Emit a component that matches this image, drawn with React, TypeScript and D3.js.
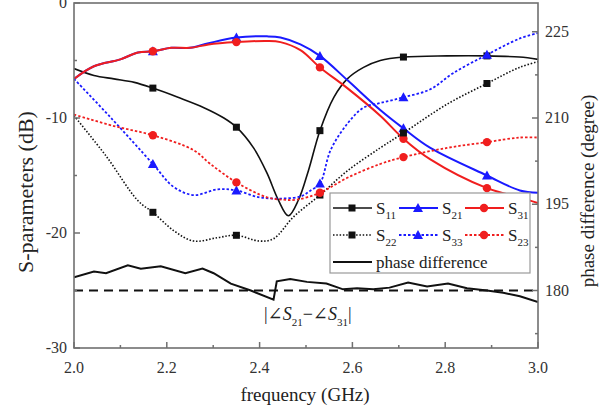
import React from "react";
import * as d3 from "d3";

// frequency (GHz), S-parameter (dB)
const s11 = [
  [2.0, -5.7], [2.043, -6.3], [2.086, -6.6], [2.13, -6.9], [2.17, -7.4], [2.224, -8.2],
  [2.28, -9.1], [2.323, -10.0], [2.35, -10.8], [2.387, -12.6], [2.416, -14.8], [2.44, -17.1],
  [2.462, -18.5], [2.484, -17.1], [2.505, -14.6], [2.53, -11.1], [2.56, -8.2], [2.589, -6.6],
  [2.624, -5.6], [2.66, -5.0], [2.71, -4.7], [2.804, -4.6], [2.89, -4.6], [2.96, -4.7], [3.0, -4.9],
];
const s21 = [
  [2.0, -6.6], [2.043, -5.5], [2.1, -4.9], [2.138, -4.3], [2.17, -4.2], [2.21, -3.9],
  [2.25, -3.9], [2.29, -3.5], [2.35, -3.0], [2.416, -2.9], [2.445, -3.0], [2.488, -3.6],
  [2.53, -4.6], [2.589, -6.7], [2.66, -9.3], [2.71, -10.9], [2.768, -12.6], [2.89, -15.0],
  [2.961, -16.3], [3.0, -16.5],
];
const s31 = [
  [2.0, -6.6], [2.043, -5.5], [2.1, -4.9], [2.138, -4.3], [2.17, -4.2], [2.21, -3.9],
  [2.25, -3.9], [2.29, -3.6], [2.35, -3.4], [2.416, -3.3], [2.445, -3.4], [2.488, -4.1],
  [2.53, -5.6], [2.589, -7.4], [2.66, -9.8], [2.71, -11.8], [2.768, -13.6], [2.89, -16.1],
  [2.961, -16.9], [3.0, -17.4],
];
const s22 = [
  [2.0, -9.8], [2.069, -13.3], [2.138, -17.2], [2.17, -18.2], [2.215, -19.8], [2.258, -20.7],
  [2.31, -20.4], [2.35, -20.2], [2.4, -20.7], [2.43, -20.5], [2.473, -18.6], [2.53, -16.7],
  [2.589, -14.6], [2.66, -12.6], [2.71, -11.3], [2.804, -8.8], [2.89, -7.0], [2.96, -5.6], [3.0, -5.1],
];
const s33 = [
  [2.0, -6.6], [2.08, -10.0], [2.17, -14.0], [2.215, -16.0], [2.258, -16.7], [2.31, -16.2],
  [2.35, -16.3], [2.4, -16.9], [2.45, -17.0], [2.49, -16.8], [2.51, -16.3], [2.53, -15.7],
  [2.553, -12.8], [2.589, -10.5], [2.624, -9.1], [2.66, -8.7], [2.71, -8.2], [2.768, -7.5],
  [2.817, -6.1], [2.89, -4.5], [2.96, -3.1], [3.0, -2.6],
];
const s23 = [
  [2.0, -9.7], [2.086, -10.7], [2.17, -11.5], [2.258, -12.8], [2.294, -14.0], [2.35, -15.6],
  [2.416, -16.9], [2.45, -17.1], [2.48, -17.1], [2.53, -16.5], [2.589, -15.2], [2.66, -14.0],
  [2.71, -13.4], [2.804, -12.6], [2.89, -12.1], [2.96, -11.7], [3.0, -11.7],
];
// frequency (GHz), phase difference (degree)
const phaseDiff = [
  [2.0, 182.3], [2.043, 183.3], [2.069, 183.0], [2.116, 184.4], [2.144, 183.8], [2.187, 184.2],
  [2.24, 183.0], [2.277, 183.8], [2.301, 183.0], [2.338, 181.2], [2.381, 180.0], [2.43, 178.4],
  [2.437, 181.6], [2.466, 182.0], [2.502, 181.5], [2.544, 181.2], [2.58, 180.2], [2.61, 180.4],
  [2.645, 180.2], [2.68, 180.5], [2.72, 181.4], [2.761, 180.7], [2.806, 181.2], [2.847, 180.4],
  [2.89, 180.0], [2.925, 179.6], [2.961, 179.0], [3.0, 178.0],
];
const phaseRef = 180;
const markerFreqs = [2.17, 2.35, 2.53, 2.71, 2.89];

const xTicks = [2.0, 2.2, 2.4, 2.6, 2.8, 3.0];
const xMinor = [2.1, 2.3, 2.5, 2.7, 2.9];
const yLeftTicks = [-30, -20, -10, 0];
const yLeftMinor = [-25, -15, -5];
const yRightTicks = [180, 195, 210, 225];
const yRightMinor = [172.5, 187.5, 202.5, 217.5];

const BLUE = "#1a1aff";
const RED = "#f01e1e";
const BLACK = "#111";
const AXIS = "#707070";
const FONT = '"Liberation Serif", "DejaVu Serif", serif';

const series = [
  { name: "11", data: s11, color: BLACK, dash: null, marker: "square", w: 1.6 },
  { name: "21", data: s21, color: BLUE, dash: null, marker: "triangle", w: 2 },
  { name: "31", data: s31, color: RED, dash: null, marker: "circle", w: 2 },
  { name: "22", data: s22, color: BLACK, dash: "1.5,1.8", marker: "square", w: 1.6 },
  { name: "33", data: s33, color: BLUE, dash: "2.5,2", marker: "triangle", w: 1.8 },
  { name: "23", data: s23, color: RED, dash: "2.5,2", marker: "circle", w: 1.8 },
];

const Marker = ({ type, cx, cy, color }) => {
  if (type === "square") return <rect x={cx - 3.5} y={cy - 3.5} width={7} height={7} fill={color} />;
  if (type === "triangle")
    return <path d={`M${cx},${cy - 5} L${cx + 5},${cy + 4} L${cx - 5},${cy + 4} Z`} fill={color} />;
  return <circle cx={cx} cy={cy} r={4.2} fill={color} />;
};

export default function App() {
  const left = 74, right = 538, top = 3, bottom = 348;
  const x = d3.scaleLinear().domain([2, 3]).range([left, right]);
  const yL = d3.scaleLinear().domain([-30, 0]).range([bottom, top]);
  const yR = d3.scaleLinear().domain([170, 230]).range([bottom, top]);

  const lineL = d3.line().x((d) => x(d[0])).y((d) => yL(d[1])).curve(d3.curveCatmullRom.alpha(0.5));
  const lineR = d3.line().x((d) => x(d[0])).y((d) => yR(d[1]));

  const legendRows = [
    { y: 208, items: [series[0], series[1], series[2]] },
    { y: 235, items: [series[3], series[4], series[5]] },
  ];
  const colX = [333, 399, 465];

  return (
    <svg width={604} height={405} style={{ position: "absolute", left: 0, top: 0, background: "#fff", fontFamily: FONT }}>
      <rect x={0} y={0} width={604} height={405} fill="#fff" />
      <defs>
        <clipPath id="plot">
          <rect x={left} y={top} width={right - left} height={bottom - top} />
        </clipPath>
      </defs>

      <g clipPath="url(#plot)">
        <line x1={left} x2={right} y1={yR(phaseRef)} y2={yR(phaseRef)} stroke={BLACK} strokeWidth={2} strokeDasharray="9,6" />
        <path d={lineR(phaseDiff)} fill="none" stroke={BLACK} strokeWidth={2} />
        {series.map((s) => (
          <g key={s.name}>
            <path d={lineL(s.data)} fill="none" stroke={s.color} strokeWidth={s.w} strokeDasharray={s.dash || undefined} />
            {s.data
              .filter((d) => markerFreqs.includes(d[0]))
              .map((d) => (
                <Marker key={d[0]} type={s.marker} cx={x(d[0])} cy={yL(d[1])} color={s.color} />
              ))}
          </g>
        ))}
      </g>

      {/* frame */}
      <rect x={left} y={top} width={right - left} height={bottom - top} fill="none" stroke={AXIS} strokeWidth={1.6} />

      {/* bottom axis */}
      {xTicks.map((t) => (
        <g key={t}>
          <line x1={x(t)} x2={x(t)} y1={bottom} y2={bottom - 6} stroke={AXIS} strokeWidth={1.5} />
          <text x={x(t)} y={373} textAnchor="middle" fontSize={16} fill="#333">{d3.format(".1f")(t)}</text>
        </g>
      ))}
      {xMinor.map((t) => (
        <line key={t} x1={x(t)} x2={x(t)} y1={bottom} y2={bottom - 3} stroke={AXIS} strokeWidth={1.5} />
      ))}

      {/* left axis */}
      {yLeftTicks.map((t) => (
        <g key={t}>
          <line x1={left} x2={left + 6} y1={yL(t)} y2={yL(t)} stroke={AXIS} strokeWidth={1.5} />
          <text x={67} y={yL(t) + 5} textAnchor="end" fontSize={16} fill="#333">{t}</text>
        </g>
      ))}
      {yLeftMinor.map((t) => (
        <line key={t} x1={left} x2={left + 3} y1={yL(t)} y2={yL(t)} stroke={AXIS} strokeWidth={1.5} />
      ))}

      {/* right axis */}
      {yRightTicks.map((t) => (
        <g key={t}>
          <line x1={right} x2={right - 6} y1={yR(t)} y2={yR(t)} stroke={AXIS} strokeWidth={1.5} />
          <text x={545} y={yR(t) + 5} fontSize={16} fill="#333">{t}</text>
        </g>
      ))}
      {yRightMinor.map((t) => (
        <line key={t} x1={right} x2={right - 3} y1={yR(t)} y2={yR(t)} stroke={AXIS} strokeWidth={1.5} />
      ))}

      {/* axis titles */}
      <text x={305} y={401} textAnchor="middle" fontSize={19} fill="#222">frequency (GHz)</text>
      <text transform="translate(33,192) rotate(-90)" textAnchor="middle" fontSize={22} fill="#222">S-parameters (dB)</text>
      <text transform="translate(594,191) rotate(-90)" textAnchor="middle" fontSize={19} fill="#222">phase difference (degree)</text>

      {/* legend */}
      <rect x={330} y={193} width={200} height={80} fill="#fff" stroke="#999" strokeWidth={1.2} />
      {legendRows.map((row) =>
        row.items.map((s, i) => (
          <g key={s.name}>
            <line x1={colX[i]} x2={colX[i] + 39} y1={row.y} y2={row.y} stroke={s.color} strokeWidth={s.w} strokeDasharray={s.dash || undefined} />
            <Marker type={s.marker} cx={colX[i] + 19} cy={row.y} color={s.color} />
            <text x={colX[i] + 43} y={row.y + 6} fontSize={17} fill="#222">
              S<tspan fontSize={11} dy={5}>{s.name}</tspan>
            </text>
          </g>
        ))
      )}
      <line x1={333} x2={372} y1={262} y2={262} stroke={BLACK} strokeWidth={2} />
      <text x={376} y={268} fontSize={17} fill="#222">phase difference</text>

      {/* annotation */}
      <text x={264} y={320} fontSize={18} fill="#222">
        |∠<tspan fontStyle="italic">S</tspan>
        <tspan fontSize={11} dy={6}>21</tspan>
        <tspan dy={-6}>−∠</tspan>
        <tspan fontStyle="italic">S</tspan>
        <tspan fontSize={11} dy={6}>31</tspan>
        <tspan dy={-6}>|</tspan>
      </text>
    </svg>
  );
}
